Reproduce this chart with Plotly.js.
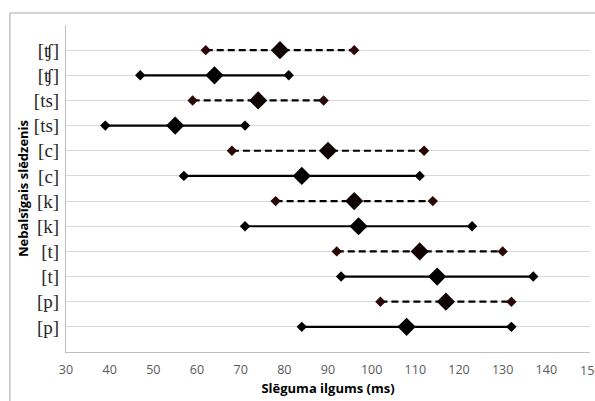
<!DOCTYPE html>
<html>
<head>
<meta charset="utf-8">
<script src="https://cdn.plot.ly/plotly-3.0.1.min.js"></script>
<style>
  html, body { margin: 0; padding: 0; background: #ffffff; }
  #chart { width: 595px; height: 401px; }
</style>
</head>
<body>
<div id="chart"></div>
<script>
// Consonant labels, top row first
var consonants = ["[ʧ]", "[ʧ]", "[ts]", "[ts]", "[c]", "[c]", "[k]", "[k]", "[t]", "[t]", "[p]", "[p]"];
// Dashed (true) or solid (false) range line for each row
var dashedRow = [true, false, true, false, true, false, true, false, true, false, true, false];
// Closure duration, ms: minimum, mean, maximum per row
var minMs  = [62, 47, 59, 39, 68, 57, 78, 71, 92, 93, 102, 84];
var meanMs = [79, 64, 74, 55, 90, 84, 96, 97, 111, 115, 117, 108];
var maxMs  = [96, 81, 89, 71, 112, 111, 114, 123, 130, 137, 132, 132];
var xTicks = [30, 40, 50, 60, 70, 80, 90, 100, 110, 120, 130, 140];
var xLastTick = 150;   // sits on the right edge, written as an annotation

var n = consonants.length;
var traces = [];
for (var i = 0; i < n; i++) {
  var yPos = n - i;            // first row sits at the top
  var dashed = dashedRow[i];
  traces.push({
    type: "scatter",
    mode: "lines+markers",
    x: [minMs[i], meanMs[i], maxMs[i]],
    y: [yPos, yPos, yPos],
    line: { color: "#000000", width: 2.2, dash: dashed ? "7px,4px" : "solid" },
    marker: {
      symbol: "diamond",
      size: [8, 14, 8],
      color: dashed ? ["#2a0805", "#0e0202", "#2a0805"] : "#000000",
      opacity: 1,
      line: { width: 0 }
    },
    opacity: 1,
    showlegend: false,
    hoverinfo: "x"
  });
}

var yVals = [], yText = [];
for (var k = 0; k <= n + 1; k++) {
  yVals.push(k);
  yText.push(k >= 1 && k <= n ? consonants[n - k] : "");
}

var layout = {
  width: 595,
  height: 401,
  margin: { l: 66, r: 5, t: 25, b: 49 },
  paper_bgcolor: "#ffffff",
  plot_bgcolor: "#ffffff",
  font: { family: "Open Sans, Liberation Sans, sans-serif", color: "#595959" },
  xaxis: {
    range: [30, 150],
    tickvals: xTicks,
    ticktext: xTicks.map(String),
    showgrid: false,
    zeroline: false,
    showline: true,
    linecolor: "#bfbfbf",
    linewidth: 1,
    ticks: "",
    tickfont: { size: 12.5, color: "#595959" },
    ticklabelstandoff: 6,
    title: {
      text: "Slēguma ilgums (ms)",
      font: { size: 13, color: "#000000", family: "Open Sans, Liberation Sans, sans-serif", weight: "bold" },
      standoff: 6
    },
    fixedrange: true
  },
  yaxis: {
    range: [0, n + 1],
    tickvals: yVals,
    ticktext: yText,
    showgrid: true,
    gridcolor: "#d9d9d9",
    gridwidth: 1,
    zeroline: false,
    showline: true,
    linecolor: "#bfbfbf",
    linewidth: 1,
    ticks: "",
    tickfont: { size: 19, color: "#262626", family: "Liberation Serif, DejaVu Serif, serif" },
    ticklabelstandoff: 2,
    title: {
      text: "Nebalsīgais slēdzenis",
      font: { size: 13, color: "#000000", family: "Open Sans, Liberation Sans, sans-serif", weight: "bold" },
      standoff: 2
    },
    fixedrange: true
  },
  annotations: [{
    xref: "x", yref: "paper",
    x: xLastTick, y: 0,
    yshift: -8,
    text: String(xLastTick),
    showarrow: false,
    xanchor: "center", yanchor: "top",
    font: { size: 12.5, color: "#595959", family: "Open Sans, Liberation Sans, sans-serif" }
  }],
  shapes: [{
    type: "rect",
    xref: "paper", yref: "paper",
    x0: -0.107, x1: 1.2,
    y0: -0.4, y1: 1.0367,
    line: { color: "#a6a6a6", width: 1 },
    fillcolor: "rgba(0,0,0,0)",
    layer: "below"
  }]
};

Plotly.newPlot("chart", traces, layout, { displayModeBar: false, staticPlot: true });
</script>
</body>
</html>
